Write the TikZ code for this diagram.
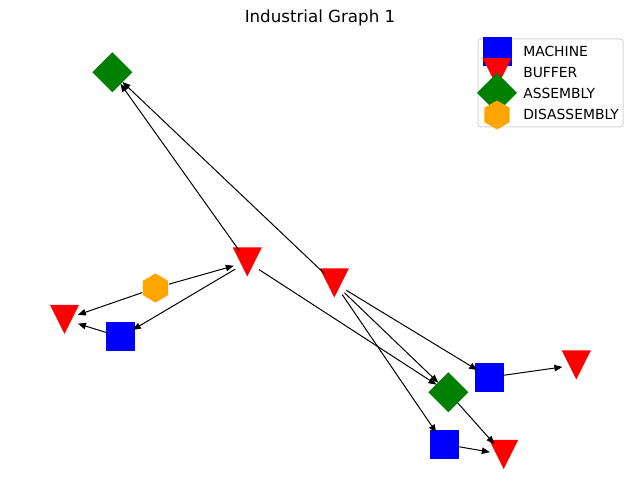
\documentclass[tikz,border=0pt]{standalone}
\usepackage{fontspec}
\setmainfont{DejaVu Sans}
\usetikzlibrary{arrows.meta}
\definecolor{machinecol}{RGB}{0,0,255}
\definecolor{buffercol}{RGB}{255,0,0}
\definecolor{assemblycol}{RGB}{0,128,0}
\definecolor{disasmcol}{RGB}{255,165,0}
\definecolor{framecol}{RGB}{214,214,214}
\begin{document}
\begin{tikzpicture}[x=0.72pt,y=-0.72pt,
  hub/.style={circle, minimum size=20.16pt, inner sep=0pt, outer sep=0pt},
  edge/.style={draw=black, line width=0.72pt, -{Triangle[length=5.8pt,width=4.6pt]}},
  legendtext/.style={anchor=west, inner sep=0pt, font=\fontsize{10}{12}\selectfont},
  machine/.pic={\fill[machinecol] (-14.5,-14.5) rectangle (14.5,14.5);},
  buffer/.pic={\fill[buffercol] (-14.5,-14.5) -- (14.5,-14.5) -- (0,14.5) -- cycle;},
  assembly/.pic={\fill[assemblycol] (0,-20) -- (20,0) -- (0,20) -- (-20,0) -- cycle;},
  disassembly/.pic={\fill[disasmcol] (0,-14.5) -- (12.56,-7.25) -- (12.56,7.25)
      -- (0,14.5) -- (-12.56,7.25) -- (-12.56,-7.25) -- cycle;},
]
\useasboundingbox (0,0) rectangle (640,504);

% title
\node[font=\fontsize{12}{14}\selectfont] (title) at (320,18) {Industrial Graph 1};

% graph nodes (connection hubs)
\node[hub] (a1) at (112.3,72.3) {};
\node[hub] (b1) at (247.3,262) {};
\node[hub] (b2) at (334.3,283) {};
\node[hub] (d1) at (155.5,288) {};
\node[hub] (b3) at (64.5,319.5) {};
\node[hub] (m1) at (120.7,337) {};
\node[hub] (m2) at (489.3,377.3) {};
\node[hub] (b4) at (576.3,365) {};
\node[hub] (a2) at (448.3,392.3) {};
\node[hub] (m3) at (444.2,444.2) {};
\node[hub] (b5) at (503.7,454.5) {};

% markers
\pic at (a1) {assembly};
\pic at (a2) {assembly};
\pic at (b1) {buffer};
\pic at (b2) {buffer};
\pic at (b3) {buffer};
\pic at (b4) {buffer};
\pic at (b5) {buffer};
\pic at (m1) {machine};
\pic at (m2) {machine};
\pic at (m3) {machine};
\pic at (d1) {disassembly};

% material flow
\draw[edge] (b1) -- (a1);
\draw[edge] (b2) -- (a1);
\draw[edge] (d1) -- (b1);
\draw[edge] (d1) -- (b3);
\draw[edge] (b1) -- (m1);
\draw[edge] (m1) -- (b3);
\draw[edge] (b1) -- (a2);
\draw[edge] (b2) -- (m2);
\draw[edge] (b2) -- (a2);
\draw[edge] (b2) -- (m3);
\draw[edge] (m2) -- (b4);
\draw[edge] (a2) -- (b5);
\draw[edge] (m3) -- (b5);

% legend
\node[draw=framecol, line width=0.72pt, rounded corners=2pt, fill=white,
      minimum width=104.4pt, minimum height=63.36pt, inner sep=0pt] (legend) at (550.5,83) {};
\pic at (497,51.5) {machine};
\pic at (497,72.5) {buffer};
\pic at (497,93) {assembly};
\pic at (497,115) {disassembly};
\node[legendtext] (lm) at (523,51.5) {MACHINE};
\node[legendtext] (lb) at (523,72.3) {BUFFER};
\node[legendtext] (la) at (523,93) {ASSEMBLY};
\node[legendtext] (ld) at (523,114) {DISASSEMBLY};
\end{tikzpicture}
\end{document}
